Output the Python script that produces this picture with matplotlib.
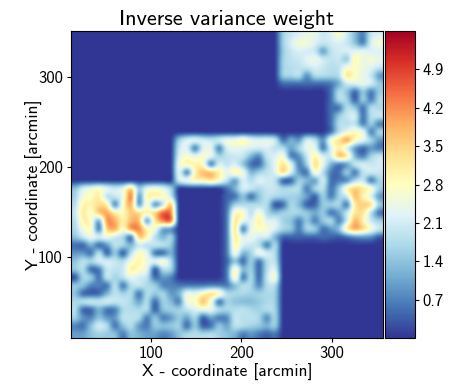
import numpy as np
from matplotlib import pyplot as plt

plt.rcParams['font.family'] = ['cmss10', 'DejaVu Sans']
plt.rcParams['axes.unicode_minus'] = False

title = 'Inverse variance weight'
x_label = 'X - coordinate [arcmin]'
y_label = 'Y - coordinate [arcmin]'
x_ticks = [100, 200, 300]
y_ticks = [100, 200, 300]
cbar_ticks = [0.7, 1.4, 2.1, 2.8, 3.5, 4.2, 4.9]
extent = [11.4, 357, 10, 351]
v_max = 5.6

# weight * 10, rows from the top of the map
top_block = [
    [16, 20, 22, 24, 24, 20, 22, 27, 21, 13, 6, 20, 22],
    [16, 22, 26, 26, 22, 20, 21, 22, 20, 14, 6, 22, 27],
    [15, 20, 22, 21, 20, 9, 19, 21, 22, 23, 24, 22, 22],
    [16, 19, 20, 23, 25, 21, 19, 20, 14, 30, 24, 26, 24],
    [16, 18, 19, 20, 22, 20, 18, 19, 26, 27, 25, 23, 20],
    [16, 17, 19, 8, 18, 18, 17, 18, 33, 28, 24, 20, 9],
    [5, 5, 5, 5, 5, 5, 6, 11, 21, 23, 24, 22, 15],
]
right_strip = [
    [5, 18, 14, 4, 15, 6, 15],
    [5, 18, 16, 3, 16, 6, 17],
    [5, 5, 18, 15, 5, 18, 17],
    [5, 15, 20, 22, 5, 18, 20],
    [5, 18, 18, 19, 6, 16, 6],
    [5, 18, 24, 28, 25, 6, 17],
]
middle_block = [
    [16, 23, 24, 22, 20, 22, 26, 26, 30, 25, 23, 24, 21, 5, 12, 9, 22, 19, 8, 27, 33, 41, 29, 24, 17, 9],
    [20, 23, 5, 22, 24, 6, 22, 24, 23, 22, 21, 22, 19, 18, 10, 17, 24, 24, 5, 22, 31, 21, 9, 4, 9, 6],
    [22, 27, 24, 27, 24, 16, 19, 20, 20, 12, 7, 20, 22, 27, 6, 8, 20, 30, 22, 21, 38, 33, 12, 6, 16, 20],
    [26, 30, 30, 28, 5, 22, 19, 22, 14, 5, 4, 16, 24, 33, 24, 6, 16, 34, 24, 12, 6, 9, 20, 22, 20, 21],
    [24, 5, 30, 38, 38, 31, 24, 30, 26, 12, 16, 19, 22, 35, 22, 9, 5, 28, 18, 6, 5, 16, 5, 19, 21, 20],
    [22, 26, 30, 30, 33, 28, 19, 9, 22, 18, 23, 21, 19, 3, 3, 16, 13, 9, 22, 5, 6, 7, 17, 20, 5, 16],
]
upper_left = [
    [14, 22, 25, 28, 24, 21, 24, 36, 15, 24, 26, 24, 17],
    [16, 26, 28, 31, 18, 20, 24, 45, 8, 30, 30, 29, 20],
    [18, 30, 30, 34, 31, 6, 28, 40, 8, 28, 7, 18, 38],
    [20, 32, 26, 37, 40, 31, 28, 36, 34, 30, 35, 47, 44],
    [18, 30, 28, 10, 42, 39, 30, 38, 38, 8, 32, 44, 46],
    [17, 26, 28, 5, 36, 40, 27, 42, 43, 30, 26, 10, 8],
    [14, 20, 25, 22, 25, 20, 17, 4, 37, 30, 18, 12, 17],
]
upper_right = [
    [5, 12, 22, 20, 17, 20, 20, 17, 18, 18, 6, 17, 19, 5, 15, 30, 36, 32, 28, 16],
    [4, 5, 14, 4, 14, 19, 17, 16, 16, 15, 10, 3, 16, 6, 16, 20, 38, 30, 22, 9],
    [5, 16, 17, 18, 17, 18, 2, 4, 17, 13, 3, 4, 15, 16, 17, 5, 32, 36, 34, 16],
    [6, 29, 28, 18, 27, 17, 13, 16, 17, 17, 15, 11, 15, 5, 10, 20, 32, 33, 18, 5],
    [6, 33, 24, 22, 31, 22, 23, 16, 14, 6, 15, 6, 15, 18, 6, 20, 39, 30, 20, 16],
    [6, 34, 5, 24, 28, 26, 22, 17, 15, 6, 17, 16, 5, 9, 14, 32, 40, 35, 27, 20],
    [6, 32, 22, 25, 21, 22, 12, 4, 4, 4, 4, 4, 5, 4, 3, 5, 8, 9, 8, 3],
]
lower_left = [
    [5, 4, 12, 4, 9, 19, 17, 12, 20, 18, 20, 19, 15],
    [9, 9, 5, 19, 3, 15, 2, 18, 28, 24, 5, 4, 12],
    [14, 19, 17, 22, 22, 20, 18, 26, 30, 25, 24, 28, 18],
    [15, 18, 4, 6, 20, 19, 20, 31, 28, 24, 2, 18, 17],
    [2, 17, 16, 5, 20, 16, 19, 24, 21, 19, 4, 9, 7],
]
lower_right = [
    [6, 30, 22, 20, 18, 5, 18],
    [6, 27, 12, 16, 26, 22, 18],
    [4, 14, 4, 16, 5, 18, 19],
    [6, 29, 13, 16, 4, 18, 23],
    [6, 30, 5, 18, 4, 20, 27],
]
bottom_block = [
    [15, 14, 7, 7, 5, 19, 5, 18, 20, 17, 16, 7, 7, 6, 6, 6, 6, 7, 7, 6, 13, 18, 17, 7, 18, 18],
    [14, 4, 3, 4, 12, 19, 16, 18, 5, 18, 15, 17, 9, 12, 25, 24, 29, 34, 30, 18, 17, 17, 16, 16, 17, 16],
    [17, 19, 21, 20, 22, 20, 20, 17, 10, 18, 4, 16, 13, 6, 26, 27, 38, 26, 4, 16, 14, 13, 13, 15, 17, 16],
    [18, 4, 4, 12, 5, 6, 17, 18, 17, 18, 3, 14, 16, 16, 19, 22, 24, 24, 18, 17, 18, 19, 17, 16, 18, 17],
    [16, 9, 7, 14, 9, 9, 19, 19, 18, 6, 15, 6, 9, 15, 10, 17, 3, 10, 6, 7, 20, 18, 19, 17, 7, 17],
    [7, 5, 14, 22, 18, 5, 14, 18, 9, 6, 15, 14, 15, 16, 4, 15, 3, 5, 15, 10, 19, 18, 16, 15, 12, 16],
    [10, 10, 14, 16, 15, 14, 6, 14, 12, 10, 10, 7, 9, 14, 17, 18, 17, 18, 16, 14, 12, 6, 9, 6, 4, 6],
]

rows = []
for row in top_block:
    rows.append([0] * 26 + row)
for row in right_strip:
    rows.append([0] * 32 + row)
for row in middle_block:
    rows.append([0] * 13 + row)
for left, right in zip(upper_left, upper_right):
    rows.append(left + [0] * 6 + right)
for left, right in zip(lower_left, lower_right):
    rows.append(left + [0] * 6 + right + [0] * 13)
for row in bottom_block:
    rows.append(row + [0] * 13)

weight = np.array(rows) / 10.0

fig = plt.figure(figsize=(4.63, 3.86), dpi=100)
ax = fig.add_axes([71 / 463, 1 - 338 / 386, 312 / 463, 307 / 386])
im = ax.imshow(weight, cmap='RdYlBu_r', vmin=0, vmax=v_max, extent=extent,
               origin='upper', aspect='auto', interpolation='mitchell')
ax.set_xticks(x_ticks)
ax.set_yticks(y_ticks)
ax.tick_params(labelsize=12, length=3, width=0.8, pad=3)
ax.set_title(title, fontsize=16, pad=4)
ax.set_xlabel(x_label, fontsize=12.6, labelpad=2)
ax.set_ylabel(y_label, fontsize=12.6, labelpad=-3.5)

cax = fig.add_axes([384.5 / 463, 1 - 338 / 386, 31 / 463, 307 / 386])
cbar = fig.colorbar(im, cax=cax, ticks=cbar_ticks)
cbar.ax.set_yticklabels(['%.1f' % t for t in cbar_ticks])
cbar.ax.tick_params(labelsize=12, length=3, width=0.8, pad=2)

fig.savefig('out.png', dpi=100)
